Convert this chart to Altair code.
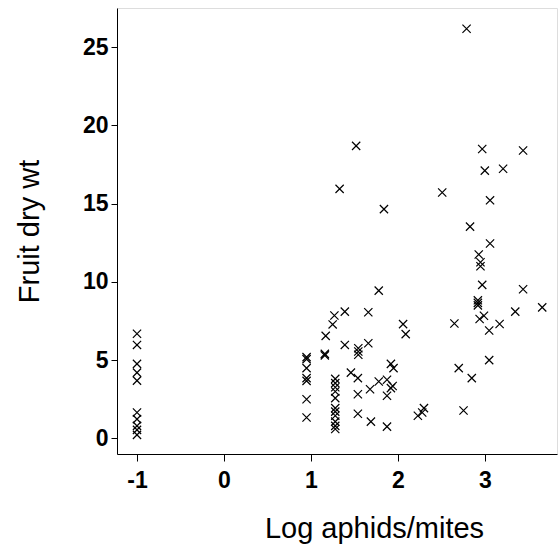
import altair as alt
import pandas as pd

# Log aphids/mites (x) and fruit dry weight (y)
log_ratio = [
    -1, -1, -1, -1, -1, -1, -1, -1, -1, -1,
    0.95, 0.95, 0.95, 0.95, 0.95, 0.95, 0.95,
    1.17, 1.16, 1.16, 1.25, 1.27,
    1.28, 1.28, 1.28, 1.28, 1.28, 1.28, 1.28, 1.28, 1.28, 1.28, 1.28,
    1.33, 1.39, 1.39, 1.46, 1.52,
    1.545, 1.545, 1.545, 1.54, 1.54, 1.54,
    1.66, 1.66, 1.68, 1.69, 1.78, 1.78, 1.84,
    1.875, 1.875, 1.875, 1.92, 1.92, 1.95, 1.94,
    2.06, 2.09, 2.23, 2.28, 2.30,
    2.51, 2.65, 2.70, 2.755, 2.79, 2.83, 2.85,
    2.92, 2.92, 2.92, 2.93, 2.95, 2.95, 2.94,
    2.97, 2.97, 2.99, 3.00, 3.05, 3.05, 3.06, 3.06,
    3.17, 3.21, 3.35, 3.44, 3.44, 3.66,
]
fruit_wt = [
    6.68, 5.97, 4.76, 4.20, 3.69, 1.65, 1.23, 0.80, 0.54, 0.22,
    5.19, 5.06, 4.49, 3.85, 3.67, 2.50, 1.33,
    6.55, 5.40, 5.30, 7.28, 7.85,
    3.80, 3.53, 3.27, 2.99, 2.57, 1.93, 1.71, 1.44, 1.07, 0.80, 0.60,
    15.94, 8.10, 5.97, 4.20, 18.69,
    5.76, 5.55, 5.34, 3.85, 2.82, 1.57,
    8.06, 6.08, 3.14, 1.07, 9.44, 3.63, 14.65,
    3.74, 2.72, 0.75, 4.76, 3.21, 4.49, 3.35,
    7.30, 6.66, 1.44, 1.65, 1.93,
    15.71, 7.34, 4.49, 1.78, 26.17, 13.53, 3.85,
    8.82, 8.66, 8.50, 11.75, 11.25, 11.00, 7.63,
    18.49, 9.81, 7.83, 17.11, 6.89, 5.00, 15.21, 12.45,
    7.31, 17.23, 8.10, 18.39, 9.53, 8.37,
]

x_ticks = [-1, 0, 1, 2, 3]
y_ticks = [0, 5, 10, 15, 20, 25]

df = pd.DataFrame({"x": log_ratio, "y": fruit_wt})

FONT = "Liberation Sans"

chart = (
    alt.Chart(df)
    .mark_point(
        shape="M-1,-1L1,1M-1,1L1,-1",
        filled=False,
        stroke="black",
        strokeWidth=1.2,
        size=68,
        opacity=1,
    )
    .encode(
        x=alt.X(
            "x:Q",
            scale=alt.Scale(domain=[-1.23, 3.83], nice=False, zero=False),
            axis=alt.Axis(
                values=x_ticks,
                labelExpr="'' + datum.value",
                title="Log aphids/mites",
                titleFont=FONT,
                titleFontSize=29,
                titleFontWeight="normal",
                titleColor="black",
                titleX=257,
                titleY=83,
                titleBaseline="alphabetic",
                labelFont=FONT,
                labelFontSize=23,
                labelFontWeight="bold",
                labelColor="black",
                labelPadding=8,
                tickSize=7,
                tickColor="black",
                domainColor="black",
                grid=False,
            ),
        ),
        y=alt.Y(
            "y:Q",
            scale=alt.Scale(domain=[-1.0, 27.5], nice=False, zero=False),
            axis=alt.Axis(
                values=y_ticks,
                labelExpr="'' + datum.value",
                title="Fruit dry wt",
                titleFont=FONT,
                titleFontSize=29,
                titleFontWeight="normal",
                titleColor="black",
                titleAngle=270,
                titleX=-88,
                titleBaseline="middle",
                labelFont=FONT,
                labelFontSize=23,
                labelFontWeight="bold",
                labelColor="black",
                labelPadding=3,
                tickSize=6,
                tickColor="black",
                domainColor="black",
                grid=False,
            ),
        ),
    )
    .properties(
        width=440,
        height=446,
        autosize=alt.AutoSizeParams(type="none"),
        padding={"left": 117, "top": 8, "right": 2, "bottom": 92},
    )
    .configure_view(stroke=None)
    .configure(background="white")
)

chart.save("out.html", embed_options={"renderer": "svg", "actions": False})
